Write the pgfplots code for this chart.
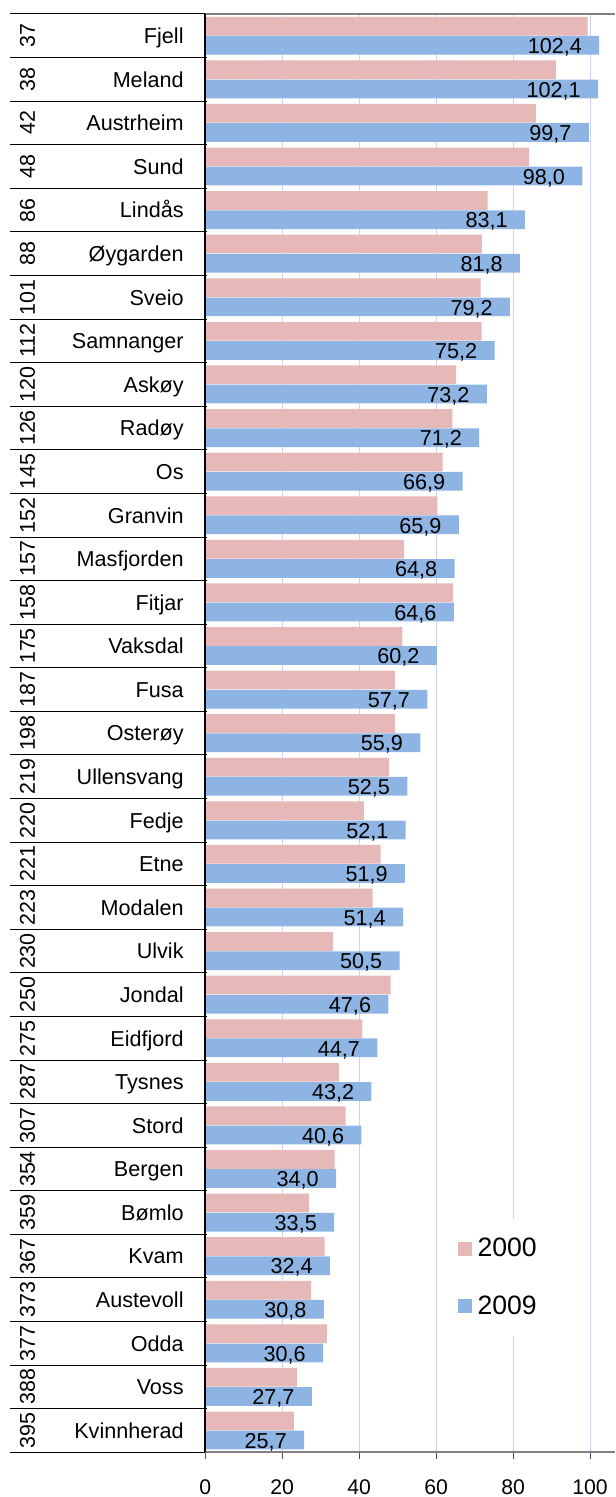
\documentclass[border=0pt]{standalone}
\usepackage{fontspec}
\setmainfont{Liberation Sans}
\usepackage{pgfplots}
\pgfplotsset{compat=1.18}
\definecolor{pinkbar}{RGB}{230,185,184}
\definecolor{bluebar}{RGB}{142,180,227}
\definecolor{gridc}{RGB}{208,208,255}
\begin{document}
\begin{tikzpicture}
\useasboundingbox (-102.65pt,-22.35pt) rectangle (204.85pt,726.15pt);
\begin{axis}[
  at={(0,0)}, anchor=south west,
  scale only axis, width=204.85pt, height=719.15pt,
  xmin=0, xmax=106.5, ymin=-0.5, ymax=32.5,
  axis line style={draw=none},
  /pgf/number format/assume math mode=true,
  xtick={0,20,...,100}, xtick pos=left, tick align=outside,
  major tick length=3.5pt,
  xtick style={black!70, line width=0.5pt},
  ytick style={draw=none},
  xmajorgrids, grid style={gridc, line width=0.5pt},
  xticklabel style={font=\fontsize{10.6}{12}\selectfont, inner sep=0pt, anchor=north, yshift=-10pt},
  ytick={0,...,32},
  yticklabels={Kvinnherad,Voss,Odda,Austevoll,Kvam,Bømlo,Bergen,Stord,Tysnes,Eidfjord,Jondal,Ulvik,Modalen,Etne,Fedje,Ullensvang,Osterøy,Fusa,Vaksdal,Fitjar,Masfjorden,Granvin,Os,Radøy,Askøy,Samnanger,Sveio,Øygarden,Lindås,Sund,Austrheim,Meland,Fjell},
  yticklabel style={font=\fontsize{10.8}{13}\selectfont, anchor=east, inner sep=0pt, text height=7.8pt, text depth=0pt, xshift=-7.15pt},
  extra y ticks={0,...,32},
  extra y tick labels={395,388,377,373,367,359,354,307,287,275,250,230,223,221,220,219,198,187,175,158,157,152,145,126,120,112,101,88,86,48,42,38,37},
  extra y tick style={yticklabel style={anchor=center, xshift=-78.5pt, rotate=90, font=\fontsize{10.7}{12}\selectfont}},
  clip=false,
  legend style={draw=none, fill=white, inner xsep=2pt, inner ysep=8pt, anchor=west,
    at={(rel axis cs:0.605,0.1215)}, font=\fontsize{13.3}{16}\selectfont, row sep=15pt,
    nodes={inner ysep=1.5pt, inner xsep=3pt}},
  legend cell align=left,
]
\addplot[xbar, bar width=0.43, bar shift=0.22, fill=pinkbar, draw=none,
  legend image code/.code={\fill[pinkbar] (0pt,-3.5pt) rectangle (7pt,3.5pt);}]
coordinates {
(23.0,0) (23.9,1) (31.6,2) (27.5,3) (31.0,4) (26.9,5) (33.6,6) (36.5,7) (34.7,8) (40.8,9)
(48.2,10) (33.2,11) (43.5,12) (45.6,13) (41.2,14) (47.8,15) (49.3,16) (49.3,17) (51.2,18) (64.4,19)
(51.7,20) (60.3,21) (61.7,22) (64.2,23) (65.2,24) (71.8,25) (71.6,26) (71.9,27) (73.4,28) (84.2,29)
(85.9,30) (91.1,31) (99.4,32)
};
\addlegendentry{2000}
\addplot[xbar, bar width=0.43, bar shift=-0.22, fill=bluebar, draw=none,
  point meta=x,
  nodes near coords={\pgfmathprintnumber[fixed, fixed zerofill, precision=1, use comma]{\pgfplotspointmeta}},
  every node near coord/.append style={anchor=east, inner sep=0pt, text height=7.6pt, text depth=0pt, xshift=-8.5pt, yshift=-5.1pt, font=\fontsize{10.8}{12}\selectfont, text=black},
  legend image code/.code={\fill[bluebar] (0pt,-3.5pt) rectangle (7pt,3.5pt);}]
coordinates {
(25.7,0) (27.7,1) (30.6,2) (30.8,3) (32.4,4) (33.5,5) (34.0,6) (40.6,7) (43.2,8) (44.7,9)
(47.6,10) (50.5,11) (51.4,12) (51.9,13) (52.1,14) (52.5,15) (55.9,16) (57.7,17) (60.2,18) (64.6,19)
(64.8,20) (65.9,21) (66.9,22) (71.2,23) (73.2,24) (75.2,25) (79.2,26) (81.8,27) (83.1,28) (98.0,29)
(99.7,30) (102.1,31) (102.4,32)
};
\addlegendentry{2009}
\pgfplotsinvokeforeach{-0.5,0.5,...,32.5}{
  \draw[black, line width=0.5pt] ([xshift=1pt]axis cs:0,#1) -- ([xshift=-97.65pt]axis cs:0,#1);
}
\draw[black!50, line width=1pt] (rel axis cs:0,1) -- (rel axis cs:1,1);
\draw[black!50, line width=1pt] (rel axis cs:0,0) -- (rel axis cs:1,0);
\draw[black, line width=0.8pt] (rel axis cs:0,0) -- (rel axis cs:0,1);
\end{axis}
\end{tikzpicture}
\end{document}
